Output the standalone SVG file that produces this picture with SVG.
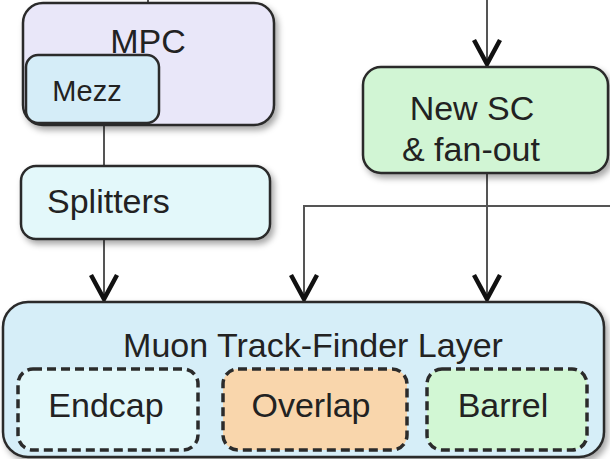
<svg xmlns="http://www.w3.org/2000/svg" width="610" height="459" viewBox="0 0 610 459">
<defs>
<style>
.box{stroke:#2b2b2b;stroke-width:2.5}
.dash{stroke:#2b2b2b;stroke-width:3.5;stroke-dasharray:9 5}
.t{font-family:"Liberation Sans",Arial,sans-serif;font-size:34px;fill:#222}
.c{text-anchor:middle}
.ln{fill:none;stroke:#555;stroke-width:2}
</style>
<filter id="sh" x="-10%" y="-10%" width="130%" height="140%">
<feDropShadow dx="3" dy="4" stdDeviation="3" flood-color="#000" flood-opacity="0.35"/>
</filter>
<marker id="arr" markerUnits="userSpaceOnUse" viewBox="-30 -16 34 32" markerWidth="34" markerHeight="32" refX="3" refY="0" orient="auto" overflow="visible">
<path d="M-24,-13 L0,0 L-24,13" fill="none" stroke="#111" stroke-width="4.5"/>
</marker>
</defs>
<rect width="610" height="459" fill="#fff"/>

<g id="connectors">
<line class="ln" x1="148" y1="0" x2="148" y2="3"/>
<line class="ln" x1="104" y1="123" x2="104" y2="166"/>
<line class="ln" x1="104" y1="239" x2="104" y2="302" marker-end="url(#arr)"/>
<line class="ln" x1="487" y1="0" x2="487" y2="67" marker-end="url(#arr)"/>
<line class="ln" x1="487" y1="173" x2="487" y2="302" marker-end="url(#arr)"/>
<path class="ln" d="M610,206 H304 V302" marker-end="url(#arr)"/>
</g>

<g id="mpc">
<rect class="box" x="23" y="3" width="251" height="122" rx="20" fill="#e9e7f9" filter="url(#sh)"/>
<text class="t c" x="148" y="53">MPC</text>
</g>
<g id="mezz">
<rect class="box" x="26" y="55" width="133" height="68" rx="12" fill="#d5edf8"/>
<text class="t c" x="87" y="101" style="font-size:29px">Mezz</text>
</g>
<g id="splitters">
<rect class="box" x="21" y="166" width="249" height="73" rx="15" fill="#e3f8fa" filter="url(#sh)"/>
<text class="t" x="47" y="213">Splitters</text>
</g>
<g id="newsc">
<rect class="box" x="363" y="67" width="245" height="106" rx="18" fill="#d1f5d4" filter="url(#sh)"/>
<text class="t c" x="472" y="120">New SC</text>
<text class="t c" x="471" y="161">&amp; fan-out</text>
</g>
<g id="muon">
<rect class="box" x="3" y="302" width="601" height="155" rx="25" fill="#d6eef8" filter="url(#sh)"/>
<text class="t c" x="313" y="357">Muon Track-Finder Layer</text>
</g>
<g id="endcap">
<rect class="dash" x="18" y="369" width="180" height="81" rx="15" fill="#e3f8fa"/>
<text class="t c" x="106" y="417">Endcap</text>
</g>
<g id="overlap">
<rect class="dash" x="223" y="369" width="184" height="81" rx="15" fill="#f9d6ac"/>
<text class="t c" x="311" y="417">Overlap</text>
</g>
<g id="barrel">
<rect class="dash" x="427" y="369" width="160" height="81" rx="15" fill="#d2f7d4"/>
<text class="t c" x="503" y="417">Barrel</text>
</g>
</svg>
